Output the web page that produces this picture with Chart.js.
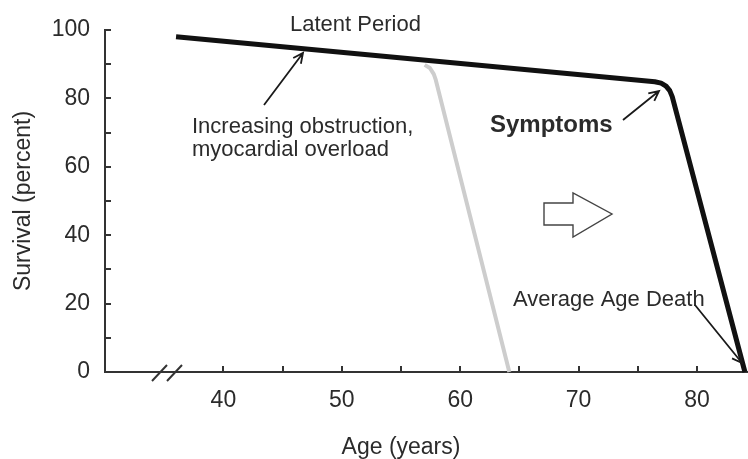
<!DOCTYPE html>
<html><head><meta charset="utf-8">
<script src="https://cdn.jsdelivr.net/npm/chart.js@4"></script>
<style>html,body{margin:0;padding:0;background:#fff}#wrap{width:748px;height:459px;position:relative}</style>
</head><body><div id="wrap"><canvas id="c" width="748" height="459"></canvas></div>
<script>
// ---- data ----
const blackAge = [36, 76.44, 76.97, 77.39, 77.70, 77.91, 84.05];
const blackSurvival = [98, 84.88, 84.47, 83.6, 82.28, 80.53, 0];
const grayAge = [57.0, 57.44, 57.77, 57.94, 64.15];
const graySurvival = [89.8, 88.9, 87.1, 85.4, 0];
const xTickLabels = [40, 50, 60, 70, 80];
const xTickMarks = [40, 45, 50, 55, 60, 65, 70, 75, 80];
const yTickLabels = [0, 20, 40, 60, 80, 100];
const yTickMarks = [0, 10, 20, 30, 40, 50, 60, 70, 80, 90, 100];

const FONT = "'Liberation Sans', Arial, sans-serif";
const TXT = '#2b2b2b';
const pts = (xs, ys) => xs.map((x, i) => ({x, y: ys[i]}));

function arrow(ctx, x1, y1, x2, y2) {
  const a = Math.atan2(y2 - y1, x2 - x1), L = 11, w = 0.45;
  ctx.beginPath();
  ctx.moveTo(x1, y1); ctx.lineTo(x2, y2);
  ctx.moveTo(x2 - L * Math.cos(a - w), y2 - L * Math.sin(a - w));
  ctx.lineTo(x2, y2);
  ctx.lineTo(x2 - L * Math.cos(a + w), y2 - L * Math.sin(a + w));
  ctx.stroke();
}

const decor = {
  id: 'decor',
  afterDraw(chart) {
    const ctx = chart.ctx, xs = chart.scales.x, ys = chart.scales.y;
    const ay = ys.bottom;
    ctx.save();
    ctx.strokeStyle = '#333'; ctx.lineWidth = 2; ctx.lineCap = 'butt';
    // inner tick marks
    ctx.beginPath();
    yTickMarks.forEach(v => { const p = Math.round(ys.getPixelForValue(v)); ctx.moveTo(ys.right, p); ctx.lineTo(ys.right + 6, p); });
    xTickMarks.forEach(v => { const p = Math.round(xs.getPixelForValue(v)); ctx.moveTo(p, ay); ctx.lineTo(p, ay - 6); });
    ctx.stroke();
    // axis break
    ctx.beginPath();
    ctx.moveTo(152, ay + 9); ctx.lineTo(167, ay - 7);
    ctx.moveTo(167, ay + 9); ctx.lineTo(182, ay - 7);
    ctx.stroke();

    // texts
    ctx.fillStyle = TXT; ctx.textBaseline = 'alphabetic'; ctx.textAlign = 'left';
    ctx.font = `22px ${FONT}`;
    ctx.fillText('Latent Period', 290, 31);
    ctx.fillText('Increasing obstruction,', 192, 133);
    ctx.fillText('myocardial overload', 192, 156);
    ctx.fillText('Average Age Death', 513, 306);
    ctx.font = `bold 24px ${FONT}`;
    ctx.fillText('Symptoms', 490, 132);
    // x title
    ctx.font = `23px ${FONT}`; ctx.textAlign = 'center';
    ctx.fillText('Age (years)', 401, 454);

    // arrows
    ctx.strokeStyle = '#1a1a1a'; ctx.lineWidth = 1.8;
    arrow(ctx, 264, 105, 303, 53);
    arrow(ctx, 623, 120, 659, 91);
    arrow(ctx, 695, 305, 742, 363);

    // hollow block arrow
    ctx.strokeStyle = '#444'; ctx.lineWidth = 1.4;
    ctx.beginPath();
    ctx.moveTo(544, 203); ctx.lineTo(573, 203); ctx.lineTo(573, 193);
    ctx.lineTo(612, 214); ctx.lineTo(573, 237); ctx.lineTo(573, 225);
    ctx.lineTo(544, 225); ctx.closePath();
    ctx.stroke();
    ctx.restore();
  }
};

new Chart(document.getElementById('c'), {
  type: 'line',
  data: {
    datasets: [
      { data: pts(grayAge, graySurvival), borderColor: '#cdcdcd', borderWidth: 4, pointRadius: 0, tension: 0, clip: false, borderJoinStyle: 'round' },
      { data: pts(blackAge, blackSurvival), borderColor: '#111', borderWidth: 5, pointRadius: 0, tension: 0, clip: false, borderJoinStyle: 'round' }
    ]
  },
  options: {
    responsive: false, animation: false, devicePixelRatio: 1,
    layout: { padding: { top: 30, left: 0, right: 0, bottom: 0 } },
    plugins: { legend: { display: false }, tooltip: { enabled: false } },
    scales: {
      x: {
        type: 'linear', min: 30, max: 84.31,
        afterBuildTicks: s => { s.ticks = xTickLabels.map(v => ({ value: v })); },
        afterFit: s => { s.height = 87; },
        grid: { display: false, drawTicks: false },
        border: { display: true, color: '#333', width: 2 },
        ticks: { font: { family: FONT, size: 23 }, color: TXT, padding: 15, maxRotation: 0, autoSkip: false }
      },
      y: {
        type: 'linear', min: 0, max: 100,
        afterBuildTicks: s => { s.ticks = yTickLabels.map(v => ({ value: v })); },
        afterFit: s => { s.width = 105; },
        grid: { display: false, drawTicks: false },
        border: { display: true, color: '#333', width: 2 },
        ticks: { font: { family: FONT, size: 23 }, color: TXT, padding: 15 },
        title: { display: true, text: 'Survival (percent)', font: { family: FONT, size: 23 }, color: TXT, padding: { top: 10, bottom: 0 } }
      }
    }
  },
  plugins: [decor]
});
</script></body></html>
